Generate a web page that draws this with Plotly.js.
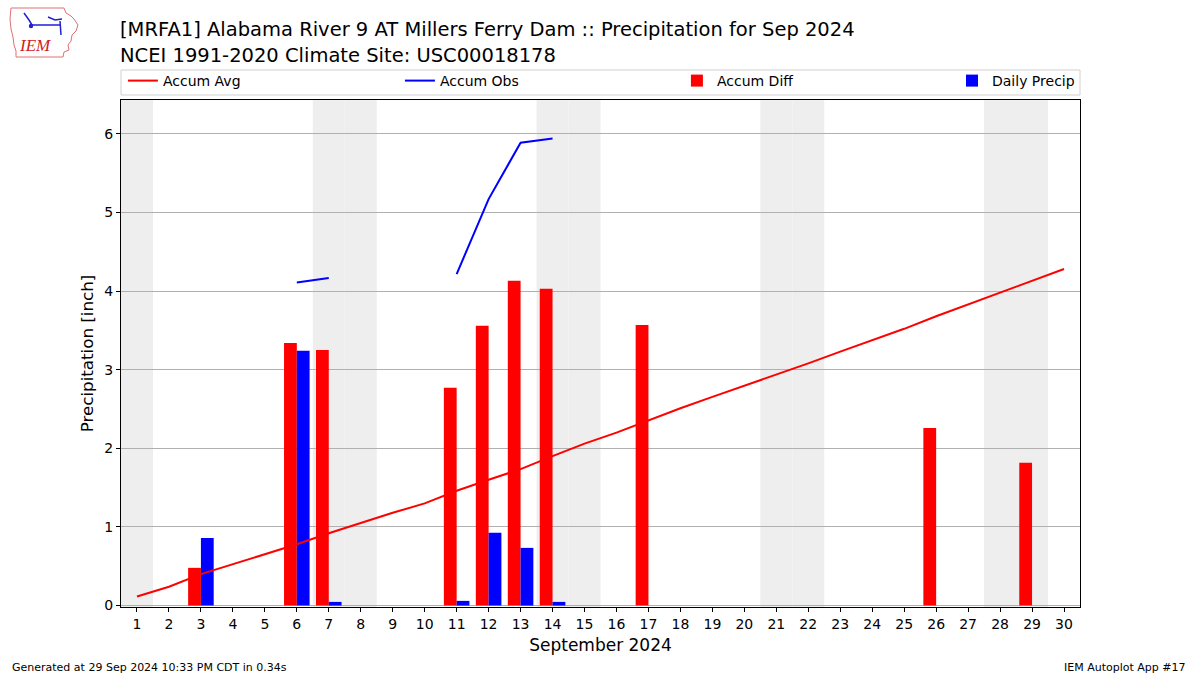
<!DOCTYPE html>
<html>
<head>
<meta charset="utf-8">
<script src="https://cdn.plot.ly/plotly-3.0.1.min.js"></script>
<style>
html,body{margin:0;padding:0;background:#fff;}
#wrap{position:relative;width:1200px;height:675px;}
#chart{width:1200px;height:675px;}
#logo{position:absolute;left:8px;top:5px;width:72px;height:54px;}
</style>
</head>
<body>
<div id="wrap">
<div id="chart"></div>
<svg id="logo" viewBox="0 0 72 54">
  <path d="M3,3 L56,3 L58,8 L63,11 L66,14 L70,20 L68,26 L64,30 L63,36 L60,40 L61,45 L56,47 L55,52 L8,52 L8,46 L6,40 L5,32 L3,24 L2,14 Z" fill="none" stroke="#e07070" stroke-width="1"/>
  <path d="M16,8 L21,15 L24,20 M23,20 L52,20 M40,12 L47,15 L54,14 M52,16 L53,30" fill="none" stroke="#2020d0" stroke-width="1.5"/>
  <circle cx="23" cy="21" r="2.2" fill="#2020d0"/>
  <text x="12" y="46" font-family="Liberation Serif, serif" font-style="italic" font-size="17" fill="#d02020">IEM</text>
</svg>
</div>
<script>
// ---- data ----
var days = [1,2,3,4,5,6,7,8,9,10,11,12,13,14,15,16,17,18,19,20,21,22,23,24,25,26,27,28,29,30];
var accumAvg = [0.115,0.24,0.40,0.527,0.65,0.78,0.92,1.05,1.18,1.30,1.46,1.60,1.735,1.90,2.06,2.20,2.36,2.51,2.655,2.795,2.935,3.08,3.23,3.37,3.52,3.68,3.83,3.98,4.135,4.28];
var accumObs = [null,null,null,null,null,4.11,4.165,null,null,null,4.216,5.17,5.887,5.94,null,null,null,null,null,null,null,null,null,null,null,null,null,null,null,null];
var accumDiff = [0,0,0.48,0,0,3.34,3.25,0,0,0,2.77,3.56,4.13,4.03,0,0,3.57,0,0,0,0,0,0,0,0,2.26,0,0,1.815,0];
var dailyPrecip = [0,0,0.86,0,0,3.24,0.047,0,0,0,0.06,0.925,0.734,0.047,0,0,0,0,0,0,0,0,0,0,0,0,0,0,0,0];
var weekendDays = [1,7,8,14,15,21,22,28,29];
var xTickLabels = days.map(String);

var FONT = "DejaVu Sans, Verdana, sans-serif";

var traces = [
  {type:'scatter', mode:'lines', name:'Accum Avg', x:days, y:accumAvg,
   line:{color:'#ff0000', width:2}, legend:'legend'},
  {type:'scatter', mode:'lines', name:'Accum Obs', x:days, y:accumObs,
   line:{color:'#0000ff', width:2}, connectgaps:false, legend:'legend'},
  {type:'bar', name:'Accum Diff', x:days, y:accumDiff, width:0.4, offset:-0.4,
   marker:{color:'#ff0000', line:{width:0}}, legend:'legend'},
  {type:'bar', name:'Daily Precip', x:days, y:dailyPrecip, width:0.4, offset:0,
   marker:{color:'#0000ff', line:{width:0}}, legend:'legend2'}
];

var PW = 959, PH = 507;
var shapes = weekendDays.map(function(d){
  return {type:'rect', xref:'x', yref:'paper', x0:d-0.5, x1:d+0.5, y0:0, y1:1,
          fillcolor:'#eeeeee', line:{width:0}, layer:'below'};
});
// legend frame
shapes.push({type:'rect', xref:'paper', yref:'paper', x0:0, x1:1, y0:1+5/PH, y1:1+30/PH,
  line:{color:'#d0d0d0', width:1}, fillcolor:'rgba(255,255,255,0)', layer:'above'});

var legendCommon = {orientation:'h', xanchor:'left', y:1+3/PH, yanchor:'bottom',
  borderwidth:0, bgcolor:'rgba(255,255,255,0)', font:{family:FONT, size:14},
  traceorder:'normal', itemwidth:30};

var layout = {
  width:1200, height:675,
  paper_bgcolor:'#ffffff', plot_bgcolor:'#ffffff',
  font:{family:FONT, color:'#000000', size:14},
  margin:{l:121, r:120, t:100, b:68},
  title:{text:'[MRFA1] Alabama River 9 AT Millers Ferry Dam :: Precipitation for Sep 2024<br>NCEI 1991-2020 Climate Site: USC00018178',
         x:0.1, xref:'container', xanchor:'left', y:0.946, yref:'container', yanchor:'top',
         font:{family:FONT, size:19.5, color:'#000'}},
  barmode:'overlay',
  showlegend:true,
  legend:Object.assign({}, legendCommon, {x:0.002, entrywidth:232, entrywidthmode:'pixels'}),
  legend2:Object.assign({}, legendCommon, {x:(952-121)/PW}),
  xaxis:{range:[0.5,30.5], tickmode:'array', tickvals:days, ticktext:xTickLabels,
         showgrid:false, zeroline:false, showline:true, linecolor:'#000', linewidth:1, mirror:true,
         ticks:'outside', ticklen:4, tickcolor:'#000', tickfont:{size:14},
         title:{text:'September 2024', font:{size:17}, standoff:8}},
  yaxis:{range:[-0.018,6.43], tickmode:'linear', tick0:0, dtick:1,
         showgrid:true, gridcolor:'#b0b0b0', gridwidth:1,
         zeroline:true, zerolinecolor:'#b0b0b0', zerolinewidth:1,
         showline:true, linecolor:'#000', linewidth:1, mirror:true,
         ticks:'outside', ticklen:4, tickcolor:'#000', tickfont:{size:14},
         title:{text:'Precipitation [inch]', font:{size:16.7}, standoff:6}},
  shapes:shapes,
  annotations:[
    {text:'Generated at 29 Sep 2024 10:33 PM CDT in 0.34s', xref:'paper', yref:'paper',
     x:-121/PW+10/PW, y:-60/PH, xanchor:'left', yanchor:'middle', showarrow:false,
     font:{size:11, family:FONT}},
    {text:'IEM Autoplot App #17', xref:'paper', yref:'paper',
     x:1+108/PW, y:-60/PH, xanchor:'right', yanchor:'middle', showarrow:false,
     font:{size:11, family:FONT}}
  ]
};

Plotly.newPlot('chart', traces, layout, {displayModeBar:false, staticPlot:true});
</script>
</body>
</html>
